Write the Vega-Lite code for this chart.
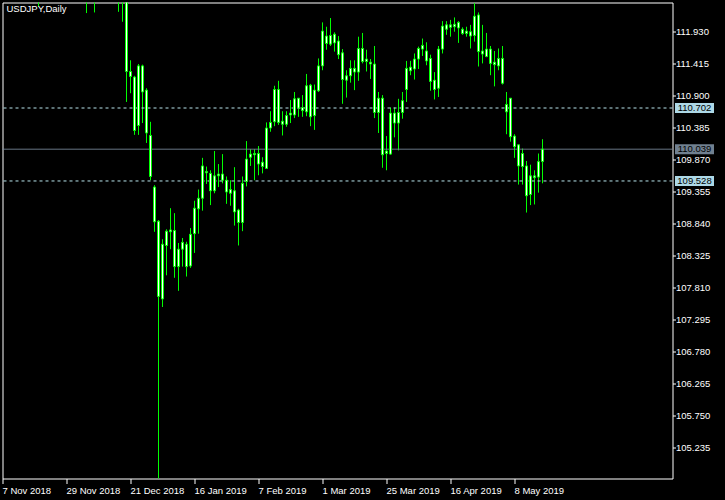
{
  "$schema": "https://vega.github.io/schema/vega-lite/v6.json",
  "autosize": {"type": "none"},
  "width": 670,
  "height": 476,
  "padding": {"left": 2.5, "top": 2.5, "right": 52.5, "bottom": 21.5},
  "background": "black",
  "title": {"text": "USDJPY,Daily", "anchor": "start", "frame": "group", "orient": "top", "offset": -12, "dx": 4, "dy": 7, "color": "white", "font": "Liberation Sans", "fontSize": 9.5, "fontWeight": "normal", "baseline": "alphabetic"},
  "config": {
    "view": {"stroke": "white", "strokeWidth": 1, "fill": "black"},
    "axis": {"grid": false, "domain": false, "labelColor": "white", "tickColor": "white", "labelFont": "Liberation Sans", "labelFontSize": 9.5}
  },
  "datasets": {
    "candles": [
      {"d":"2018-11-07","o":113.45,"h":113.82,"l":112.95,"c":113.55},
      {"d":"2018-11-08","o":113.55,"h":114.09,"l":113.40,"c":113.97},
      {"d":"2018-11-09","o":113.97,"h":114.07,"l":113.62,"c":113.82},
      {"d":"2018-11-12","o":113.82,"h":114.21,"l":113.70,"c":113.85},
      {"d":"2018-11-13","o":113.85,"h":114.05,"l":113.62,"c":113.82},
      {"d":"2018-11-14","o":113.82,"h":113.92,"l":113.37,"c":113.62},
      {"d":"2018-11-15","o":113.62,"h":113.82,"l":113.25,"c":113.60},
      {"d":"2018-11-16","o":113.60,"h":113.68,"l":112.65,"c":112.82},
      {"d":"2018-11-19","o":112.82,"h":112.88,"l":112.52,"c":112.55},
      {"d":"2018-11-20","o":112.55,"h":113.05,"l":112.33,"c":112.90},
      {"d":"2018-11-21","o":112.90,"h":113.25,"l":112.85,"c":113.00},
      {"d":"2018-11-22","o":113.00,"h":113.12,"l":112.88,"c":112.95},
      {"d":"2018-11-23","o":112.95,"h":113.05,"l":112.75,"c":112.95},
      {"d":"2018-11-26","o":112.95,"h":113.60,"l":112.80,"c":113.55},
      {"d":"2018-11-27","o":113.55,"h":113.85,"l":113.40,"c":113.75},
      {"d":"2018-11-28","o":113.75,"h":114.05,"l":113.30,"c":113.65},
      {"d":"2018-11-29","o":113.65,"h":113.75,"l":113.35,"c":113.45},
      {"d":"2018-11-30","o":113.45,"h":113.72,"l":113.25,"c":113.55},
      {"d":"2018-12-03","o":113.55,"h":113.85,"l":113.45,"c":113.65},
      {"d":"2018-12-04","o":113.65,"h":113.72,"l":112.85,"c":112.90},
      {"d":"2018-12-05","o":112.90,"h":113.30,"l":112.85,"c":113.18},
      {"d":"2018-12-06","o":113.18,"h":113.25,"l":112.23,"c":112.70},
      {"d":"2018-12-07","o":112.70,"h":113.10,"l":112.52,"c":112.60},
      {"d":"2018-12-10","o":112.60,"h":113.30,"l":112.24,"c":113.25},
      {"d":"2018-12-11","o":113.25,"h":113.55,"l":113.05,"c":113.35},
      {"d":"2018-12-12","o":113.35,"h":113.70,"l":113.25,"c":113.35},
      {"d":"2018-12-13","o":113.35,"h":113.70,"l":113.35,"c":113.60},
      {"d":"2018-12-14","o":113.60,"h":113.70,"l":113.25,"c":113.38},
      {"d":"2018-12-17","o":113.38,"h":113.45,"l":112.75,"c":112.85},
      {"d":"2018-12-18","o":112.85,"h":112.95,"l":112.25,"c":112.50},
      {"d":"2018-12-19","o":112.50,"h":112.65,"l":112.09,"c":112.45},
      {"d":"2018-12-20","o":112.45,"h":112.60,"l":110.80,"c":111.29},
      {"d":"2018-12-21","o":111.29,"h":111.47,"l":110.94,"c":111.21},
      {"d":"2018-12-24","o":111.20,"h":111.22,"l":110.27,"c":110.34},
      {"d":"2018-12-26","o":110.42,"h":111.41,"l":110.27,"c":111.38},
      {"d":"2018-12-27","o":111.38,"h":111.40,"l":110.46,"c":110.96},
      {"d":"2018-12-28","o":110.99,"h":111.02,"l":110.14,"c":110.30},
      {"d":"2018-12-31","o":110.26,"h":110.48,"l":109.54,"c":109.60},
      {"d":"2019-01-02","o":109.43,"h":109.46,"l":108.71,"c":108.87},
      {"d":"2019-01-03","o":108.88,"h":108.90,"l":104.70,"c":107.67},
      {"d":"2019-01-04","o":107.63,"h":108.59,"l":107.50,"c":108.51},
      {"d":"2019-01-07","o":108.49,"h":108.75,"l":108.01,"c":108.72},
      {"d":"2019-01-08","o":108.71,"h":109.09,"l":108.43,"c":108.74},
      {"d":"2019-01-09","o":108.73,"h":109.01,"l":107.97,"c":108.15},
      {"d":"2019-01-10","o":108.15,"h":108.53,"l":107.76,"c":108.43},
      {"d":"2019-01-11","o":108.43,"h":108.61,"l":108.15,"c":108.54},
      {"d":"2019-01-14","o":108.51,"h":108.55,"l":107.99,"c":108.15},
      {"d":"2019-01-15","o":108.16,"h":108.77,"l":108.13,"c":108.67},
      {"d":"2019-01-16","o":108.68,"h":109.21,"l":108.37,"c":109.09},
      {"d":"2019-01-17","o":109.08,"h":109.39,"l":108.68,"c":109.25},
      {"d":"2019-01-18","o":109.25,"h":109.90,"l":109.05,"c":109.77},
      {"d":"2019-01-21","o":109.68,"h":109.76,"l":109.48,"c":109.66},
      {"d":"2019-01-22","o":109.65,"h":109.70,"l":109.14,"c":109.37},
      {"d":"2019-01-23","o":109.37,"h":110.01,"l":109.33,"c":109.61},
      {"d":"2019-01-24","o":109.61,"h":109.80,"l":109.43,"c":109.64},
      {"d":"2019-01-25","o":109.64,"h":109.96,"l":109.49,"c":109.54},
      {"d":"2019-01-28","o":109.54,"h":109.60,"l":109.16,"c":109.35},
      {"d":"2019-01-29","o":109.33,"h":109.54,"l":109.13,"c":109.39},
      {"d":"2019-01-30","o":109.37,"h":109.75,"l":108.81,"c":109.03},
      {"d":"2019-01-31","o":109.06,"h":109.08,"l":108.49,"c":108.86},
      {"d":"2019-02-01","o":108.86,"h":109.60,"l":108.72,"c":109.49},
      {"d":"2019-02-04","o":109.52,"h":110.17,"l":109.44,"c":109.88},
      {"d":"2019-02-05","o":109.91,"h":110.04,"l":109.77,"c":109.96},
      {"d":"2019-02-06","o":109.95,"h":110.04,"l":109.54,"c":109.97},
      {"d":"2019-02-07","o":109.97,"h":110.09,"l":109.62,"c":109.80},
      {"d":"2019-02-08","o":109.83,"h":109.91,"l":109.65,"c":109.76},
      {"d":"2019-02-11","o":109.73,"h":110.47,"l":109.73,"c":110.38},
      {"d":"2019-02-12","o":110.38,"h":110.65,"l":110.32,"c":110.47},
      {"d":"2019-02-13","o":110.48,"h":111.06,"l":110.41,"c":111.00},
      {"d":"2019-02-14","o":111.00,"h":111.14,"l":110.43,"c":110.47},
      {"d":"2019-02-15","o":110.44,"h":110.65,"l":110.26,"c":110.49},
      {"d":"2019-02-18","o":110.44,"h":110.65,"l":110.40,"c":110.58},
      {"d":"2019-02-19","o":110.59,"h":110.83,"l":110.46,"c":110.62},
      {"d":"2019-02-20","o":110.59,"h":110.96,"l":110.54,"c":110.85},
      {"d":"2019-02-21","o":110.86,"h":110.86,"l":110.56,"c":110.70},
      {"d":"2019-02-22","o":110.71,"h":110.91,"l":110.56,"c":110.66},
      {"d":"2019-02-25","o":110.64,"h":111.25,"l":110.57,"c":111.06},
      {"d":"2019-02-26","o":111.07,"h":111.09,"l":110.41,"c":110.56},
      {"d":"2019-02-27","o":110.58,"h":111.08,"l":110.35,"c":110.99},
      {"d":"2019-02-28","o":110.98,"h":111.50,"l":110.96,"c":111.38},
      {"d":"2019-03-01","o":111.38,"h":112.08,"l":111.31,"c":111.94},
      {"d":"2019-03-04","o":111.86,"h":112.01,"l":111.64,"c":111.74},
      {"d":"2019-03-05","o":111.73,"h":112.15,"l":111.70,"c":111.87},
      {"d":"2019-03-06","o":111.89,"h":111.92,"l":111.61,"c":111.75},
      {"d":"2019-03-07","o":111.78,"h":111.86,"l":111.49,"c":111.56},
      {"d":"2019-03-08","o":111.59,"h":111.65,"l":110.77,"c":111.16},
      {"d":"2019-03-11","o":111.15,"h":111.31,"l":110.87,"c":111.22},
      {"d":"2019-03-12","o":111.22,"h":111.47,"l":111.11,"c":111.34},
      {"d":"2019-03-13","o":111.34,"h":111.47,"l":110.99,"c":111.28},
      {"d":"2019-03-14","o":111.28,"h":111.85,"l":111.14,"c":111.66},
      {"d":"2019-03-15","o":111.66,"h":111.91,"l":111.42,"c":111.45},
      {"d":"2019-03-18","o":111.45,"h":111.64,"l":111.29,"c":111.49},
      {"d":"2019-03-19","o":111.44,"h":111.49,"l":111.17,"c":111.41},
      {"d":"2019-03-20","o":111.41,"h":111.70,"l":110.54,"c":110.63},
      {"d":"2019-03-21","o":110.63,"h":110.96,"l":110.30,"c":110.86},
      {"d":"2019-03-22","o":110.86,"h":110.91,"l":109.74,"c":109.95},
      {"d":"2019-03-25","o":109.97,"h":110.25,"l":109.70,"c":110.01},
      {"d":"2019-03-26","o":109.96,"h":110.71,"l":109.95,"c":110.62},
      {"d":"2019-03-27","o":110.62,"h":110.71,"l":110.23,"c":110.46},
      {"d":"2019-03-28","o":110.46,"h":110.85,"l":110.02,"c":110.63},
      {"d":"2019-03-29","o":110.63,"h":110.96,"l":110.53,"c":110.82},
      {"d":"2019-04-01","o":111.00,"h":111.46,"l":110.80,"c":111.34},
      {"d":"2019-04-02","o":111.36,"h":111.46,"l":111.23,"c":111.30},
      {"d":"2019-04-03","o":111.33,"h":111.58,"l":111.16,"c":111.49},
      {"d":"2019-04-04","o":111.49,"h":111.69,"l":111.33,"c":111.66},
      {"d":"2019-04-05","o":111.65,"h":111.82,"l":111.54,"c":111.71},
      {"d":"2019-04-08","o":111.62,"h":111.76,"l":111.39,"c":111.46},
      {"d":"2019-04-09","o":111.50,"h":111.56,"l":110.98,"c":111.13},
      {"d":"2019-04-10","o":111.15,"h":111.28,"l":110.84,"c":111.00},
      {"d":"2019-04-11","o":111.02,"h":111.70,"l":110.88,"c":111.65},
      {"d":"2019-04-12","o":111.65,"h":112.10,"l":111.58,"c":112.02},
      {"d":"2019-04-15","o":112.04,"h":112.10,"l":111.88,"c":111.97},
      {"d":"2019-04-16","o":112.00,"h":112.12,"l":111.85,"c":112.04},
      {"d":"2019-04-17","o":112.01,"h":112.16,"l":111.93,"c":112.05},
      {"d":"2019-04-18","o":112.08,"h":112.10,"l":111.75,"c":111.99},
      {"d":"2019-04-19","o":111.97,"h":112.00,"l":111.88,"c":111.90},
      {"d":"2019-04-22","o":111.90,"h":112.01,"l":111.85,"c":111.94},
      {"d":"2019-04-23","o":111.93,"h":112.04,"l":111.66,"c":111.86},
      {"d":"2019-04-24","o":111.87,"h":112.39,"l":111.77,"c":112.18},
      {"d":"2019-04-25","o":112.20,"h":112.24,"l":111.37,"c":111.61},
      {"d":"2019-04-26","o":111.62,"h":112.04,"l":111.42,"c":111.57},
      {"d":"2019-04-29","o":111.53,"h":111.91,"l":111.52,"c":111.65},
      {"d":"2019-04-30","o":111.65,"h":111.70,"l":111.23,"c":111.42},
      {"d":"2019-05-01","o":111.40,"h":111.62,"l":111.05,"c":111.44},
      {"d":"2019-05-02","o":111.38,"h":111.66,"l":111.31,"c":111.50},
      {"d":"2019-05-03","o":111.50,"h":111.70,"l":111.08,"c":111.10},
      {"d":"2019-05-06","o":110.64,"h":110.96,"l":110.28,"c":110.76},
      {"d":"2019-05-07","o":110.86,"h":110.86,"l":110.16,"c":110.24},
      {"d":"2019-05-08","o":110.25,"h":110.28,"l":109.90,"c":110.08},
      {"d":"2019-05-09","o":110.11,"h":110.11,"l":109.47,"c":109.77},
      {"d":"2019-05-10","o":109.76,"h":110.05,"l":109.47,"c":109.97},
      {"d":"2019-05-13","o":109.77,"h":109.85,"l":109.02,"c":109.29},
      {"d":"2019-05-14","o":109.31,"h":109.79,"l":109.14,"c":109.61},
      {"d":"2019-05-15","o":109.61,"h":109.70,"l":109.15,"c":109.58},
      {"d":"2019-05-16","o":109.59,"h":109.97,"l":109.34,"c":109.84},
      {"d":"2019-05-17","o":109.84,"h":110.20,"l":109.49,"c":110.04}
    ],
    "levels": [
      {"price": 110.702, "kind": "level", "label": "110.702"},
      {"price": 110.039, "kind": "bid", "label": "110.039"},
      {"price": 109.528, "kind": "level", "label": "109.528"}
    ]
  },
  "layer": [
    {
      "data": {"name": "candles"},
      "mark": {"type": "rule", "color": "#00FF00", "strokeWidth": 1, "clip": true},
      "encoding": {
        "x": {"field": "d", "type": "ordinal", "sort": "ascending", "title": null, "scale": {"type": "band", "range": [-2, 542], "paddingInner": 0, "paddingOuter": 0},
              "axis": {"values": ["2018-11-07", "2018-11-29", "2018-12-21", "2019-01-16", "2019-02-07", "2019-03-01", "2019-03-25", "2019-04-16", "2019-05-08"],
                       "labelExpr": "utcFormat(toDate(datum.value), '%-d %b %Y')", "labelAlign": "left", "labelBaseline": "top", "labelPadding": 2, "tickSize": 5, "bandPosition": 0.5, "labelAngle": 0, "labelOverlap": false, "labelBound": false}},
        "y": {"field": "l", "type": "quantitative", "title": null, "scale": {"domain": [104.74, 112.40], "zero": false, "nice": false},
              "axis": {"orient": "right", "values": [111.930, 111.415, 110.900, 110.385, 109.870, 109.355, 108.840, 108.325, 107.810, 107.295, 106.780, 106.265, 105.750, 105.235], "format": ".3f", "tickSize": 3, "labelPadding": 0, "labelBaseline": "middle"}},
        "y2": {"field": "h"}
      }
    },
    {
      "data": {"name": "levels"},
      "mark": {"type": "rule", "strokeWidth": 1},
      "encoding": {
        "y": {"field": "price", "type": "quantitative", "title": null, "scale": {"domain": [104.74, 112.40], "zero": false, "nice": false},
              "axis": {"orient": "right", "values": [111.930, 111.415, 110.900, 110.385, 109.870, 109.355, 108.840, 108.325, 107.810, 107.295, 106.780, 106.265, 105.750, 105.235], "format": ".3f", "tickSize": 3, "labelPadding": 0, "labelBaseline": "middle"}},
        "stroke": {"field": "kind", "type": "nominal", "scale": {"domain": ["bid", "level"], "range": ["#7A8C9C", "#B8E4EC"]}, "legend": null},
        "strokeDash": {"field": "kind", "type": "nominal", "scale": {"domain": ["bid", "level"], "range": [[1, 0], [3, 3]]}, "legend": null}
      }
    },
    {
      "data": {"name": "candles"},
      "mark": {"type": "bar", "width": 2, "fill": "white", "stroke": "#00FF00", "strokeWidth": 1, "clip": true},
      "encoding": {
        "x": {"field": "d", "type": "ordinal", "sort": "ascending", "title": null, "scale": {"type": "band", "range": [-2, 542], "paddingInner": 0, "paddingOuter": 0},
              "axis": {"values": ["2018-11-07", "2018-11-29", "2018-12-21", "2019-01-16", "2019-02-07", "2019-03-01", "2019-03-25", "2019-04-16", "2019-05-08"],
                       "labelExpr": "utcFormat(toDate(datum.value), '%-d %b %Y')", "labelAlign": "left", "labelBaseline": "top", "labelPadding": 2, "tickSize": 5, "bandPosition": 0.5, "labelAngle": 0, "labelOverlap": false, "labelBound": false}},
        "y": {"field": "o", "type": "quantitative", "title": null, "scale": {"domain": [104.74, 112.40], "zero": false, "nice": false},
              "axis": {"orient": "right", "values": [111.930, 111.415, 110.900, 110.385, 109.870, 109.355, 108.840, 108.325, 107.810, 107.295, 106.780, 106.265, 105.750, 105.235], "format": ".3f", "tickSize": 3, "labelPadding": 0, "labelBaseline": "middle"}},
        "y2": {"field": "c"}
      }
    },
    {
      "data": {"name": "levels"},
      "mark": {"type": "point", "shape": "M-1,-0.2564H1V0.2564H-1Z", "size": 1521, "filled": true, "opacity": 1, "strokeWidth": 0, "x": {"expr": "width + 22"}},
      "encoding": {
        "y": {"field": "price", "type": "quantitative", "title": null, "scale": {"domain": [104.74, 112.40], "zero": false, "nice": false},
              "axis": {"orient": "right", "values": [111.930, 111.415, 110.900, 110.385, 109.870, 109.355, 108.840, 108.325, 107.810, 107.295, 106.780, 106.265, 105.750, 105.235], "format": ".3f", "tickSize": 3, "labelPadding": 0, "labelBaseline": "middle"}},
        "fill": {"field": "kind", "type": "nominal", "scale": {"domain": ["bid", "level"], "range": ["#708090", "#ADD8E6"]}, "legend": null}
      }
    },
    {
      "data": {"name": "levels"},
      "mark": {"type": "text", "color": "black", "font": "Liberation Sans", "fontSize": 9.5, "align": "center", "baseline": "middle", "x": {"expr": "width + 22"}},
      "encoding": {
        "y": {"field": "price", "type": "quantitative", "title": null, "scale": {"domain": [104.74, 112.40], "zero": false, "nice": false},
              "axis": {"orient": "right", "values": [111.930, 111.415, 110.900, 110.385, 109.870, 109.355, 108.840, 108.325, 107.810, 107.295, 106.780, 106.265, 105.750, 105.235], "format": ".3f", "tickSize": 3, "labelPadding": 0, "labelBaseline": "middle"}},
        "text": {"field": "label", "type": "nominal"}
      }
    }
  ]
}
